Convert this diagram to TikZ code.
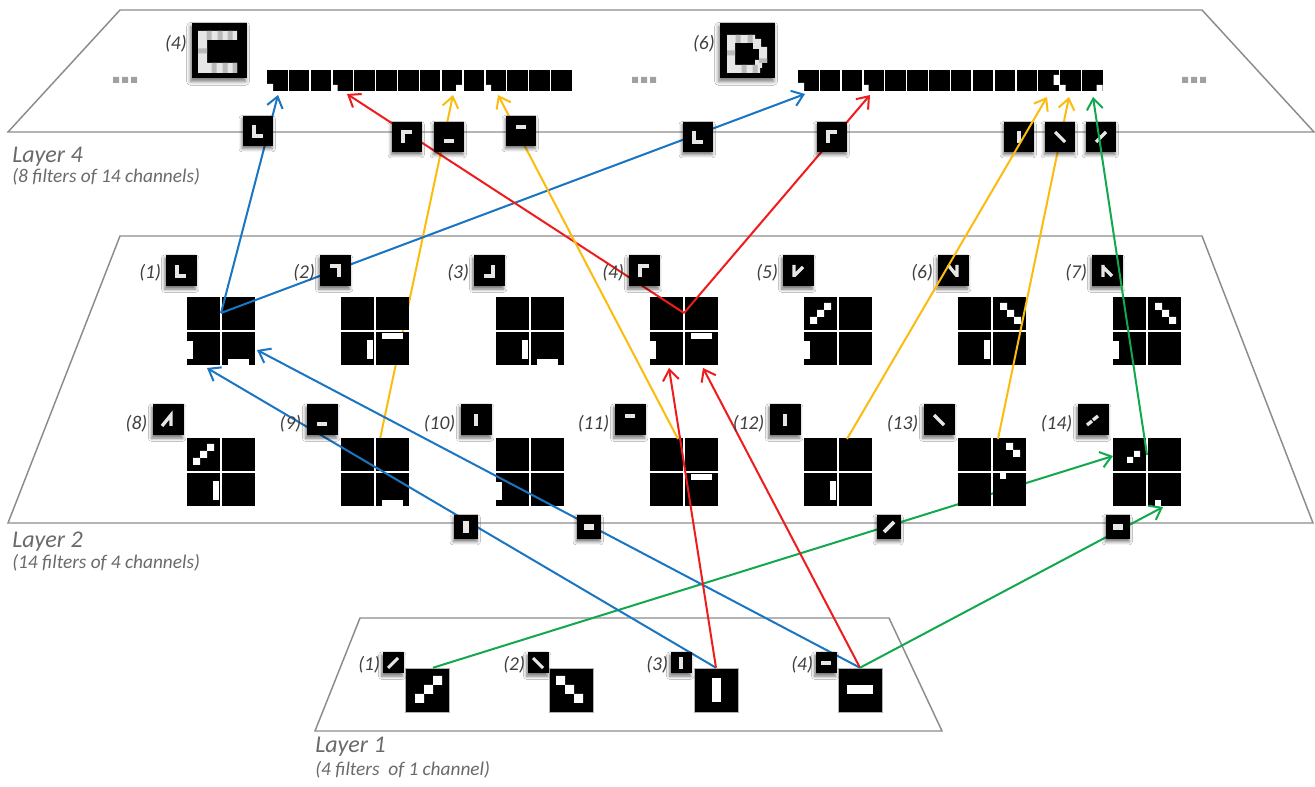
\documentclass[tikz,border=0pt]{standalone}
\usepackage{fontspec}
\setmainfont{Carlito}
\usetikzlibrary{arrows.meta,shadows.blur}
\definecolor{cblue}{HTML}{1A75C2}
\definecolor{cred}{HTML}{EE1C1C}
\definecolor{cyel}{HTML}{FBBC0E}
\definecolor{cgrn}{HTML}{12A84E}
\definecolor{edgegray}{HTML}{8C8C8C}
\definecolor{ttlgray}{HTML}{6A6A6A}
\definecolor{lblgray}{HTML}{3F3F3F}
\definecolor{dotgray}{HTML}{A0A0A0}
\definecolor{glyphw}{HTML}{E6E6E6}

\newcommand\mycell[3]{\fill[black] (#1,#2) rectangle ++(33,33);\csname dec#3\endcsname{#1}{#2}}
\newcommand\decO[2]{}
\newcommand\decN[2]{\fill[white] (#1,#2+9) rectangle ++(6,18);}
\newcommand\decB[2]{\fill[white] (#1+6,#2+27) rectangle ++(21,6);}
\newcommand\decV[2]{\fill[white] (#1+26,#2+8) rectangle ++(6,19);}
\newcommand\decT[2]{\fill[white] (#1+6,#2+1) rectangle ++(21,6);}
\newcommand\decD[2]{\fill[white] (#1+20,#2+6) rectangle ++(7,7) (#1+13,#2+13) rectangle ++(7,7) (#1+6,#2+20) rectangle ++(7,7);}
\newcommand\decE[2]{\fill[white] (#1+7,#2+6) rectangle ++(7,7) (#1+14,#2+13) rectangle ++(7,7) (#1+21,#2+20) rectangle ++(7,7);}
\newcommand\decF[2]{\fill[white] (#1+13,#2+5) rectangle ++(7,7) (#1+20,#2+12) rectangle ++(7,7);}
\newcommand\decG[2]{\fill[white] (#1+21,#2+13) rectangle ++(6,6) (#1+14,#2+19) rectangle ++(6,6);}
\newcommand\decP[2]{\fill[white] (#1+7,#2) rectangle ++(6,6);}
\newcommand\decQ[2]{\fill[white] (#1+7,#2+27) rectangle ++(6,6);}
\newcommand\fgrid[7]{%
  \node[gridnode] (#1) at (#2,#3) {};
  \mycell{#2-34}{#3-34}{#4}
  \mycell{#2+1}{#3-34}{#5}
  \mycell{#2-34}{#3+1}{#6}
  \mycell{#2+1}{#3+1}{#7}}

\tikzset{
  gs/.store in=\gsc, gs=1,
  glw/.store in=\glwf, glw=2,
  layerpoly/.style={draw=edgegray, line width=1.1pt, line join=miter},
  gridnode/.style={inner sep=0pt, minimum size=68*0.75pt},
  rsq/.style={fill=black, inner sep=0pt, minimum width=20.5*0.75pt, minimum height=21*0.75pt},
  icon/.style={fill=black, inner sep=0pt, minimum size=#1*0.75pt, gs=#1/17.5,
    blur shadow={shadow xshift=-0.6pt, shadow yshift=-2pt, shadow blur radius=2.4pt, shadow opacity=55}},
  bigimg/.style={fill=black, draw=gray!60, line width=0.4pt, inner sep=0pt, minimum size=44*0.75pt, gs=1},
  letterimg/.style={fill=black, inner sep=0pt, minimum size=55*0.75pt, gs=1,
    blur shadow={shadow xshift=-1pt, shadow yshift=-2.5pt, shadow blur radius=3pt, shadow opacity=55}},
  glyph/.style={draw=glyphw, line width=\gsc*\glwf*0.7pt},
  gpic/.style={path picture={\begin{scope}[shift={(path picture bounding box.center)},scale=\gsc]#1\end{scope}}},
  gL/.style={gpic={\draw[glyph] (-4,-6)--(-4,5)--(5,5);}},
  gGam/.style={gpic={\draw[glyph] (-4,6)--(-4,-5)--(5,-5);}},
  gSev/.style={gpic={\draw[glyph] (-5,-5)--(4,-5)--(4,6);}},
  gJ/.style={gpic={\draw[glyph] (4,-6)--(4,5)--(-5,5);}},
  gLo/.style={gpic={\draw[glyph] (-5,4)--(5,4);}},
  gHi/.style={gpic={\draw[glyph] (-5,-4)--(5,-4);}},
  gVb/.style={gpic={\draw[glyph] (0,-6)--(0,6);}},
  gHb/.style={gpic={\draw[glyph] (-5,0)--(5,0);}},
  gBs/.style={gpic={\draw[glyph] (-5,-5)--(5,5);}},
  gSl/.style={gpic={\draw[glyph] (-5,5)--(5,-5);}},
  gFive/.style={gpic={\draw[glyph] (-4,-6)--(-4,6) (-4,5)--(5,-4);}},
  gSix/.style={gpic={\draw[glyph] (-5,-6)--(4,5) (4,-6)--(4,6);}},
  gSeven/.style={gpic={\draw[glyph] (-4,-6)--(-4,6) (-4,-4)--(5,5);}},
  gEight/.style={gpic={\draw[glyph] (-6,6)--(3,-5)--(3,6);}},
  gFourteen/.style={gpic={\draw[glyph] (-6,5)--(-1,1) (0,0)--(5,-4);}},
  bigA/.style={gpic={\fill[white] (6,-14) rectangle ++(9,9) (-3,-5) rectangle ++(9,9) (-12,4) rectangle ++(9,9);}},
  bigB/.style={gpic={\fill[white] (-15,-14) rectangle ++(9,9) (-6,-5) rectangle ++(9,9) (3,4) rectangle ++(9,9);}},
  bigC/.style={gpic={\fill[white] (-4.5,-12) rectangle (4.5,12);}},
  bigD/.style={gpic={\fill[white] (-13,-4.5) rectangle (13,4.5);}},
  letC/.style={gpic={\fill[glyphw] (-21.5,-19.5) rectangle (-12.5,22.5) (-21.5,-19.5) rectangle (17.5,-10.5) (-21.5,12.5) rectangle (17.5,22.5);
      \fill[gray!55] (-13,-19.5) rectangle (-8,-10.5) (-2,-19.5) rectangle (3,-10.5) (8,-19.5) rectangle (13,-10.5)
        (-21.5,-2) rectangle (-12.5,3) (-8,12.5) rectangle (-3,22.5) (3,12.5) rectangle (8,22.5) (13,12.5) rectangle (17.5,22.5);}},
  letD/.style={gpic={\fill[glyphw] (-20.5,-15.5) rectangle (-12.5,22.5) (-20.5,-15.5) rectangle (7.5,-7.5) (5.5,-11.5) rectangle (13.5,-1.5)
        (11.5,-3.5) rectangle (19.5,12.5) (7.5,9.5) rectangle (14.5,17.5) (-20.5,14.5) rectangle (12.5,22.5);
      \fill[gray!55] (-12,-15.5) rectangle (-7,-7.5) (0,-15.5) rectangle (5,-7.5) (-20.5,0) rectangle (-12.5,5)
        (-6,14.5) rectangle (-1,22.5) (5,14.5) rectangle (10,22.5) (11.5,8) rectangle (19.5,12.5);}},
  conn/.style={line width=1.5pt, -{Straight Barb[length=8pt,width=12pt]}},
  ttl/.style={font=\fontsize{18}{20}\selectfont\itshape, text=ttlgray, inner sep=0pt, anchor=base west},
  subt/.style={font=\fontsize{14.5}{16}\selectfont\itshape, text=ttlgray, inner sep=0pt, anchor=base west},
  lbl/.style={font=\fontsize{14.6}{16}\selectfont\itshape, text=lblgray, inner sep=0pt, anchor=east},
}

\begin{document}
\begin{tikzpicture}[x=0.75pt,y=-0.75pt]
\useasboundingbox (0,0) rectangle (1315,787);
\fill[white] (0,0) rectangle (1315,787);

% layers
\draw[layerpoly] (120,10) -- (1202,10) -- (1314,132) -- (8,132) -- cycle;
\draw[layerpoly] (120,236) -- (1202,236) -- (1313,523) -- (8,523) -- cycle;
\draw[layerpoly] (360,618) -- (889,618) -- (942,731) -- (315,731) -- cycle;

% named coordinates for connector ends
\coordinate (tb1) at (278,95);
\coordinate (tb2) at (805,94);
\coordinate (tr1) at (347,94);
\coordinate (tr2) at (870,95);
\coordinate (ty1) at (453,95);
\coordinate (ty2) at (498,95);
\coordinate (ty3) at (1047,97);
\coordinate (ty4) at (1069,97);
\coordinate (tg1) at (1093,97);
\coordinate (g1j) at (221,313);
\coordinate (g4j) at (684,313);
\coordinate (g9t) at (380,439);
\coordinate (g11t) at (678,439);
\coordinate (g12t) at (847,439);
\coordinate (g13t) at (998,439);
\coordinate (g14s) at (1147,455);
\coordinate (tg1a) at (207,368);
\coordinate (tg1b) at (257,350);
\coordinate (tg4a) at (669,368);
\coordinate (tg4b) at (703,368);
\coordinate (tg14a) at (1113,456);
\coordinate (tg14b) at (1163,507);

% layer 1 big images
\node[bigimg,bigA] (b1) at (427,690) {};
\node[bigimg,bigB] (b2) at (571,690) {};
\node[bigimg,bigC] (b3) at (716,690) {};
\node[bigimg,bigD] (b4) at (860,690) {};

% connectors hidden behind grids
\draw[conn,cyel] (g9t) -- (ty1);
\draw[conn,cgrn] ([xshift=4.5pt]b1.north) -- (tg14a);

% layer 4 rows
\foreach \i in {1,...,14}{\node[rsq] (ra\i) at ({277.25+(\i-1)*21.85},80.5) {};}
\foreach \i in {1,...,14}{\node[rsq] (rb\i) at ({808.25+(\i-1)*21.85},80.5) {};}
\fill[white] (267,84) rectangle (273,91.5) (332.5,85) rectangle (337.5,91.5)
  (456,85) rectangle (462.5,91.5) (485.5,85) rectangle (491,91.5);
\fill[white] (798,83) rectangle (804,91.5) (863.5,85) rectangle (868.5,91.5)
  (1053.5,75) rectangle (1059,85) (1060,85) rectangle (1065.5,91.5) (1096.5,85) rectangle (1102.6,91.5);

% letter images
\node[letterimg,letC] (cimg) at (219.5,50.5) {};
\node[letterimg,letD] (dimg) at (747.5,50.5) {};
\node[lbl] (n4top) at (187,44) {(4)};
\node[lbl] (n6top) at (715,44) {(6)};

% dots
\fill[dotgray] (113,77) rectangle ++(6,6) (122,77) rectangle ++(6,6) (131,77) rectangle ++(6,6);
\fill[dotgray] (632,77) rectangle ++(6,6) (641,77) rectangle ++(6,6) (650,77) rectangle ++(6,6);
\fill[dotgray] (1182,77) rectangle ++(6,6) (1191,77) rectangle ++(6,6) (1200,77) rectangle ++(6,6);

% layer 2 grids
\fgrid{g1}{221}{331}{O}{O}{N}{B}
\fgrid{g2}{375}{331}{O}{O}{V}{T}
\fgrid{g3}{530}{331}{O}{O}{V}{B}
\fgrid{g4}{684}{331}{O}{O}{N}{T}
\fgrid{g5}{838}{331}{D}{O}{N}{O}
\fgrid{g6}{992}{331}{O}{E}{V}{O}
\fgrid{g7}{1147}{331}{O}{E}{N}{O}
\fgrid{g8}{221}{472}{D}{O}{V}{O}
\fgrid{g9}{375}{472}{O}{O}{O}{B}
\fgrid{g10}{530}{472}{O}{O}{N}{O}
\fgrid{g11}{684}{472}{O}{O}{O}{T}
\fgrid{g12}{838}{472}{O}{O}{V}{O}
\fgrid{g13}{992}{472}{O}{F}{O}{P}
\fgrid{g14}{1147}{472}{G}{O}{O}{Q}

% connectors
\draw[conn,cblue] (g1j) -- (tb1);
\draw[conn,cblue] (g1j) -- (tb2);
\draw[conn,cblue] (b3.north) -- (tg1a);
\draw[conn,cblue] (b4.north) -- (tg1b);
\draw[conn,cred] (g4j) -- (tr1);
\draw[conn,cred] (g4j) -- (tr2);
\draw[conn,cred] (b3.north) -- (tg4a);
\draw[conn,cred] (b4.north) -- (tg4b);
\draw[conn,cyel] (g11t) -- (ty2);
\draw[conn,cyel] (g13t) -- (ty4);
\draw[conn,cgrn] (b4.north) -- (tg14b);

% layer 4 icons
\node[icon=30,gL] (u1) at (258,131) {};
\node[icon=30,gGam] (u2) at (407,137) {};
\node[icon=30,gLo] (u3) at (449,137) {};
\node[icon=30,gHi] (u4) at (521,131) {};
\node[icon=30,gL] (u5) at (698,137) {};
\node[icon=30,gGam] (u6) at (832,137) {};
\node[icon=30,gVb] (u7) at (1019,137) {};
\node[icon=30,gBs] (u8) at (1060,137) {};
\node[icon=30,gSl] (u9) at (1101,137) {};

% layer 2 icons
\node[icon=31,gL] (k1) at (181,271) {};
\node[icon=31,gSev] (k2) at (335,271) {};
\node[icon=31,gJ] (k3) at (489,271) {};
\node[icon=31,gGam] (k4) at (644,271) {};
\node[icon=31,gFive] (k5) at (798,271) {};
\node[icon=31,gSix] (k6) at (953,271) {};
\node[icon=31,gSeven] (k7) at (1107,271) {};
\node[icon=31,gEight] (k8) at (168,420) {};
\node[icon=31,gLo] (k9) at (322,420) {};
\node[icon=31,gVb] (k10) at (476,420) {};
\node[icon=31,gHi] (k11) at (630,420) {};
\node[icon=31,gVb] (k12) at (785,420) {};
\node[icon=31,gBs] (k13) at (939,420) {};
\node[icon=31,gFourteen] (k14) at (1093,420) {};

% connectors drawn over some icons
\draw[conn,cyel] (g12t) -- (ty3);
\draw[conn,cgrn] (g14s) -- (tg1);

% layer 2 line icons
\node[icon=24,glw=4,gVb] (m1) at (466,527) {};
\node[icon=24,glw=4,gHb] (m2) at (589,527) {};
\node[icon=24,glw=3,gSl] (m3) at (889,527) {};
\node[icon=24,glw=4,gHb] (m4) at (1118,527) {};

% layer 1 small icons
\node[icon=21,glw=2.8,gSl] (s1) at (393,663) {};
\node[icon=21,glw=2.8,gBs] (s2) at (538,663) {};
\node[icon=21,glw=3.2,gVb] (s3) at (681,663) {};
\node[icon=21,glw=3.2,gHb] (s4) at (826,663) {};

% labels
\foreach \k/\t in {k1/(1),k2/(2),k3/(3),k4/(4),k5/(5),k6/(6),k7/(7)}{
  \node[lbl] (lab\k) at ([xshift=-3pt,yshift=-1pt]\k.west) {\t};}
\foreach \k/\t in {k8/(8),k9/(9),k10/(10),k11/(11),k12/(12),k13/(13),k14/(14)}{
  \node[lbl] (lab\k) at ([xshift=-3.5pt,yshift=-2.5pt]\k.west) {\t};}
\foreach \k/\t in {s1/(1),s2/(2),s3/(3),s4/(4)}{
  \node[lbl] (lab\k) at ([xshift=-1.5pt,yshift=-1pt]\k.west) {\t};}

% titles
\node[ttl] (t4) at (12,163) {Layer 4};
\node[subt] (st4) at (12,183) {(8 filters of 14 channels)};
\node[ttl] (t2) at (12,548) {Layer 2};
\node[subt] (st2) at (12,569) {(14 filters of 4 channels)};
\node[ttl] (t1) at (315,753) {Layer 1};
\node[subt] (st1) at (315,776) {(4 filters~ of 1 channel)};
\end{tikzpicture}
\end{document}
